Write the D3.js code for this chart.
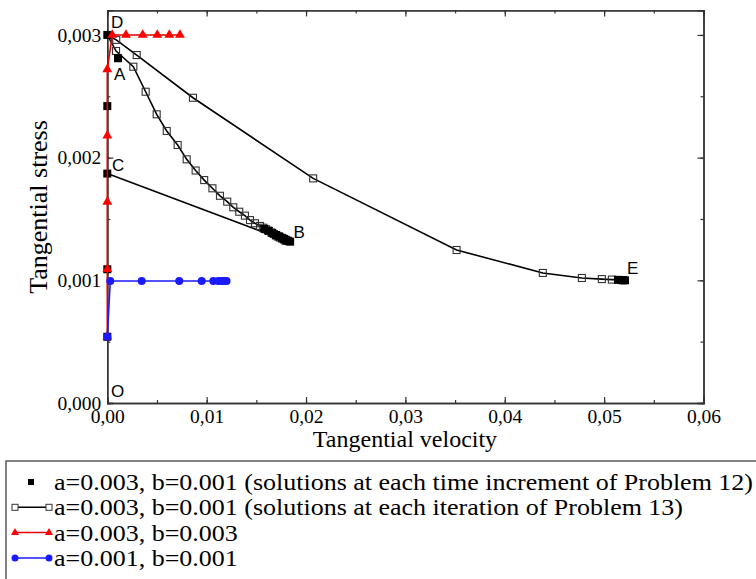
<!DOCTYPE html>
<html>
<head>
<meta charset="utf-8">
<script src="https://cdn.jsdelivr.net/npm/d3@7"></script>
<style>
  body { margin: 0; background: #fff; }
  text { fill: #000; }
</style>
</head>
<body>
<svg id="chart" width="756" height="579"></svg>
<script>
// --- data ---
// Problem 12: solutions at each time increment (filled squares)
const p12Points = [
  [0, 0.00054], [0, 0.00109], [0, 0.00187], [0, 0.00242], [0, 0.0030],
  [0.00108, 0.00281],
  [0.0158, 0.00142], [0.0162, 0.001405], [0.0166, 0.001385], [0.0170, 0.00137],
  [0.0173, 0.001358], [0.0176, 0.001346], [0.0178, 0.001338], [0.0180, 0.00133],
  [0.0182, 0.001322], [0.0184, 0.001315],
  [0.0514, 0.001004], [0.0517, 0.001002], [0.0519, 0.001001], [0.0521, 0.0010]
];
// Problem 13: iterations (open squares), three paths
const p13Upper = [
  [0, 0.0030], [0.0009, 0.00296], [0.00296, 0.002836], [0.00862, 0.002488],
  [0.02072, 0.001831], [0.03515, 0.001247], [0.04383, 0.00106], [0.04776, 0.001019],
  [0.04977, 0.00101], [0.05078, 0.001006], [0.0519, 0.001002]
];
const p13Lower = [
  [0, 0.0030], [0.00088, 0.002869], [0.00262, 0.002741], [0.00386, 0.002537],
  [0.00497, 0.002353], [0.00598, 0.002217], [0.00708, 0.002103], [0.00799, 0.001986],
  [0.00889, 0.001895], [0.00975, 0.001817], [0.01058, 0.00175], [0.01134, 0.001689],
  [0.01207, 0.001641], [0.01268, 0.001595], [0.01328, 0.001559], [0.01385, 0.001527],
  [0.01436, 0.001491], [0.01486, 0.001465], [0.01537, 0.001443], [0.01569, 0.001429],
  [0.01597, 0.001416], [0.01627, 0.001402], [0.01652, 0.00139], [0.01677, 0.001377],
  [0.01697, 0.001365], [0.01717, 0.001357], [0.01737, 0.001349], [0.01757, 0.00134],
  [0.01778, 0.001333], [0.01793, 0.001324], [0.01805, 0.00132]
];
const p13Chord = [[0, 0.00187], [0.0181, 0.00132]];
// a=0.003, b=0.003
const redPoints = [
  [0, 0.00054], [0, 0.00109], [0, 0.00164], [0, 0.00218], [0, 0.00272],
  [0.0005, 0.0030], [0.00188, 0.0030], [0.00356, 0.0030], [0.00503, 0.0030],
  [0.00624, 0.0030], [0.00731, 0.0030]
];
// a=0.001, b=0.001
const bluePoints = [
  [0, 0.00054], [0.0003, 0.000995], [0.00346, 0.000995], [0.00724, 0.000995],
  [0.0095, 0.000995], [0.01067, 0.000995], [0.01117, 0.000995], [0.0115, 0.000995],
  [0.01177, 0.000995], [0.0120, 0.000995]
];
const pointLabels = [
  {t: "D", x: 0.00037, y: 0.003056}, {t: "A", x: 0.00067, y: 0.002632},
  {t: "C", x: 0.00047, y: 0.00189}, {t: "B", x: 0.01875, y: 0.001345},
  {t: "E", x: 0.0523, y: 0.001051}, {t: "O", x: 0.00037, y: 0.000049}
];
const xTicks = [0, 0.01, 0.02, 0.03, 0.04, 0.05, 0.06];
const yTicks = [0, 0.001, 0.002, 0.003];
const legendLabels = [
  "a=0.003, b=0.001 (solutions at each time increment of Problem 12)",
  "a=0.003, b=0.001 (solutions at each iteration of Problem 13)",
  "a=0.003, b=0.003",
  "a=0.001, b=0.001"
];

const svg = d3.select("#chart");
const serif = "'Liberation Serif','Times New Roman',serif";
const sans = "'Liberation Sans',Arial,sans-serif";

const x = d3.scaleLinear().domain([0, 0.06]).range([107.3, 703.5]);
const y = d3.scaleLinear().domain([0, 0.0032]).range([403, 10.4]);

const comma = f => d => d3.format(f)(d).replace(".", ",");
const xMinor = d3.range(0, 0.0601, 0.005);
const yMinor = d3.range(0, 0.00321, 0.0005);

function styleAxis(g) {
  g.selectAll(".domain").attr("stroke", "#333").attr("stroke-width", 1.4);
  g.selectAll(".tick line").attr("stroke", "#333").attr("stroke-width", 1.2);
  g.selectAll("text").attr("font-family", serif).attr("font-size", 19.5).attr("fill", "#000");
}

// minor ticks
svg.append("g").attr("transform", `translate(0,${y(0)})`)
  .call(d3.axisBottom(x).tickValues(xMinor).tickSize(-3).tickFormat(""))
  .call(styleAxis);
svg.append("g").attr("transform", `translate(0,${y(0.0032)})`)
  .call(d3.axisTop(x).tickValues(xMinor).tickSize(-3).tickFormat(""))
  .call(styleAxis);
svg.append("g").attr("transform", `translate(${x(0)},0)`)
  .call(d3.axisLeft(y).tickValues(yMinor).tickSize(-3).tickFormat(""))
  .call(styleAxis);
svg.append("g").attr("transform", `translate(${x(0.06)},0)`)
  .call(d3.axisRight(y).tickValues(yMinor).tickSize(-3).tickFormat(""))
  .call(styleAxis);

// major ticks + labels
svg.append("g").attr("transform", `translate(0,${y(0)})`)
  .call(d3.axisBottom(x).tickValues(xTicks).tickSize(-6).tickPadding(6).tickFormat(comma(".2f")))
  .call(styleAxis);
svg.append("g").attr("transform", `translate(0,${y(0.0032)})`)
  .call(d3.axisTop(x).tickValues(xTicks).tickSize(-6).tickFormat(""))
  .call(styleAxis);
svg.append("g").attr("transform", `translate(${x(0)},0)`)
  .call(d3.axisLeft(y).tickValues(yTicks).tickSize(-6).tickPadding(6).tickFormat(comma(".3f")))
  .call(styleAxis);
svg.append("g").attr("transform", `translate(${x(0.06)},0)`)
  .call(d3.axisRight(y).tickValues(yTicks).tickSize(-6).tickFormat(""))
  .call(styleAxis);

// axis titles
svg.append("text").attr("x", 405).attr("y", 447).attr("text-anchor", "middle")
  .attr("font-family", serif).attr("font-size", 24).text("Tangential velocity");
svg.append("text").attr("transform", "translate(47,207) rotate(-90)").attr("text-anchor", "middle")
  .attr("font-family", serif).attr("font-size", 26).text("Tangential stress");

const line = d3.line().x(d => x(d[0])).y(d => y(d[1]));
const plot = svg.append("g");

// Problem 13 paths
[p13Upper, p13Lower, p13Chord].forEach(s => {
  plot.append("path").datum(s).attr("d", line)
    .attr("fill", "none").attr("stroke", "#000").attr("stroke-width", 1.6);
});
[p13Upper, p13Lower].forEach(s => {
  plot.append("g").selectAll("rect").data(s.slice(1)).join("rect")
    .attr("x", d => x(d[0]) - 3.5).attr("y", d => y(d[1]) - 3.5)
    .attr("width", 7).attr("height", 7)
    .attr("fill", "none").attr("stroke", "#333").attr("stroke-width", 1.1);
});

// Problem 12 filled squares
plot.append("g").selectAll("rect").data(p12Points).join("rect")
  .attr("x", d => x(d[0]) - 4).attr("y", d => y(d[1]) - 4)
  .attr("width", 8).attr("height", 8).attr("fill", "#000");

// red series
plot.append("path").datum(redPoints).attr("d", line)
  .attr("fill", "none").attr("stroke", "#e00000").attr("stroke-width", 1.6);
const tri = d3.symbol().type(d3.symbolTriangle).size(42);
plot.append("g").selectAll("path").data(redPoints).join("path")
  .attr("d", tri).attr("transform", d => `translate(${x(d[0])},${y(d[1])})`)
  .attr("fill", "#ff0000");

// blue series
plot.append("path").datum(bluePoints).attr("d", line)
  .attr("fill", "none").attr("stroke", "#1a1aff").attr("stroke-width", 1.6);
plot.append("g").selectAll("circle").data(bluePoints).join("circle")
  .attr("cx", d => x(d[0])).attr("cy", d => y(d[1])).attr("r", 4)
  .attr("fill", "#1a1aff");

// point labels
svg.append("g").selectAll("text").data(pointLabels).join("text")
  .attr("x", d => x(d.x)).attr("y", d => y(d.y))
  .attr("font-family", sans).attr("font-size", 17).text(d => d.t);

// legend
const lg = svg.append("g");
lg.append("rect").attr("x", 6).attr("y", 461).attr("width", 760).attr("height", 140)
  .attr("fill", "#fff").attr("stroke", "#333").attr("stroke-width", 1.2);
const rowY = i => 482 + i * 25.3;
const legendText = lg.selectAll("text").data(legendLabels).join("text")
  .attr("x", 54).attr("y", (d, i) => rowY(i) + 8)
  .attr("font-family", serif).attr("font-size", 22.5).text(d => d);
// the source legend is drawn a little wider than plain Times: stretch to match
const natural = legendText.nodes().map(n => n.getComputedTextLength());
const k = 699 / natural[0];
legendText.attr("textLength", (d, i) => natural[i] * k).attr("lengthAdjust", "spacingAndGlyphs");

// row 1 symbol
lg.append("rect").attr("x", 28).attr("y", rowY(0) - 3).attr("width", 6).attr("height", 6).attr("fill", "#000");
// row 2
lg.append("line").attr("x1", 15).attr("x2", 49).attr("y1", rowY(1)).attr("y2", rowY(1)).attr("stroke", "#000").attr("stroke-width", 1.5);
[15, 49].forEach(px => lg.append("rect").attr("x", px - 3).attr("y", rowY(1) - 3).attr("width", 6).attr("height", 6)
  .attr("fill", "#fff").attr("stroke", "#333").attr("stroke-width", 1));
// row 3
lg.append("line").attr("x1", 15).attr("x2", 49).attr("y1", rowY(2)).attr("y2", rowY(2)).attr("stroke", "#e00000").attr("stroke-width", 1.5);
[15, 49].forEach(px => lg.append("path").attr("d", d3.symbol().type(d3.symbolTriangle).size(28)())
  .attr("transform", `translate(${px},${rowY(2)})`).attr("fill", "#ff0000"));
// row 4
lg.append("line").attr("x1", 15).attr("x2", 49).attr("y1", rowY(3)).attr("y2", rowY(3)).attr("stroke", "#1a1aff").attr("stroke-width", 1.5);
[15, 49].forEach(px => lg.append("circle").attr("cx", px).attr("cy", rowY(3)).attr("r", 3.5).attr("fill", "#1a1aff"));
</script>
</body>
</html>
